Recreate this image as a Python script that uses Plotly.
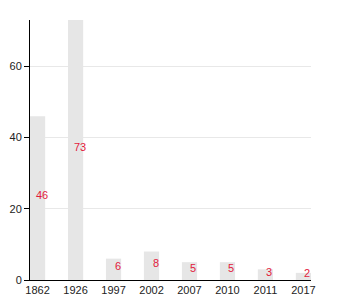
import plotly.graph_objects as go

years = ["1862", "1926", "1997", "2002", "2007", "2010", "2011", "2017"]
values = [46, 73, 6, 8, 5, 5, 3, 2]
y_ticks = [0, 20, 40, 60]

fig = go.Figure()
fig.add_trace(go.Bar(
    x=years, y=values, width=0.4,
    marker=dict(color="#e6e6e6", line=dict(width=0)),
    hoverinfo="skip",
))

for i, v in enumerate(values):
    fig.add_annotation(
        x=i, y=v / 2, text=str(v), showarrow=False,
        xref="x", yref="y",
        xshift=4, yshift=3,
        font=dict(family="Liberation Sans, Arial, sans-serif", size=11, color="#e31a3c"),
    )

fig.update_layout(
    width=350, height=300,
    margin=dict(l=30, r=39, t=20, b=20),
    plot_bgcolor="white", paper_bgcolor="white",
    showlegend=False,
    font=dict(family="Liberation Sans, Arial, sans-serif", size=11, color="#222"),
    xaxis=dict(
        type="category", range=[-0.2, 7.2], automargin=False,
        showline=True, linecolor="black", linewidth=1,
        ticks="", showgrid=False, tickfont=dict(size=11),
    ),
    yaxis=dict(
        range=[0, 73], tickvals=y_ticks, automargin=False,
        showline=True, linecolor="black", linewidth=1,
        ticks="outside", ticklen=5, tickcolor="black",
        showgrid=True, gridcolor="#e8e8e8", gridwidth=1,
        zeroline=False, tickfont=dict(size=11),
    ),
)

fig.write_html("out.html")
